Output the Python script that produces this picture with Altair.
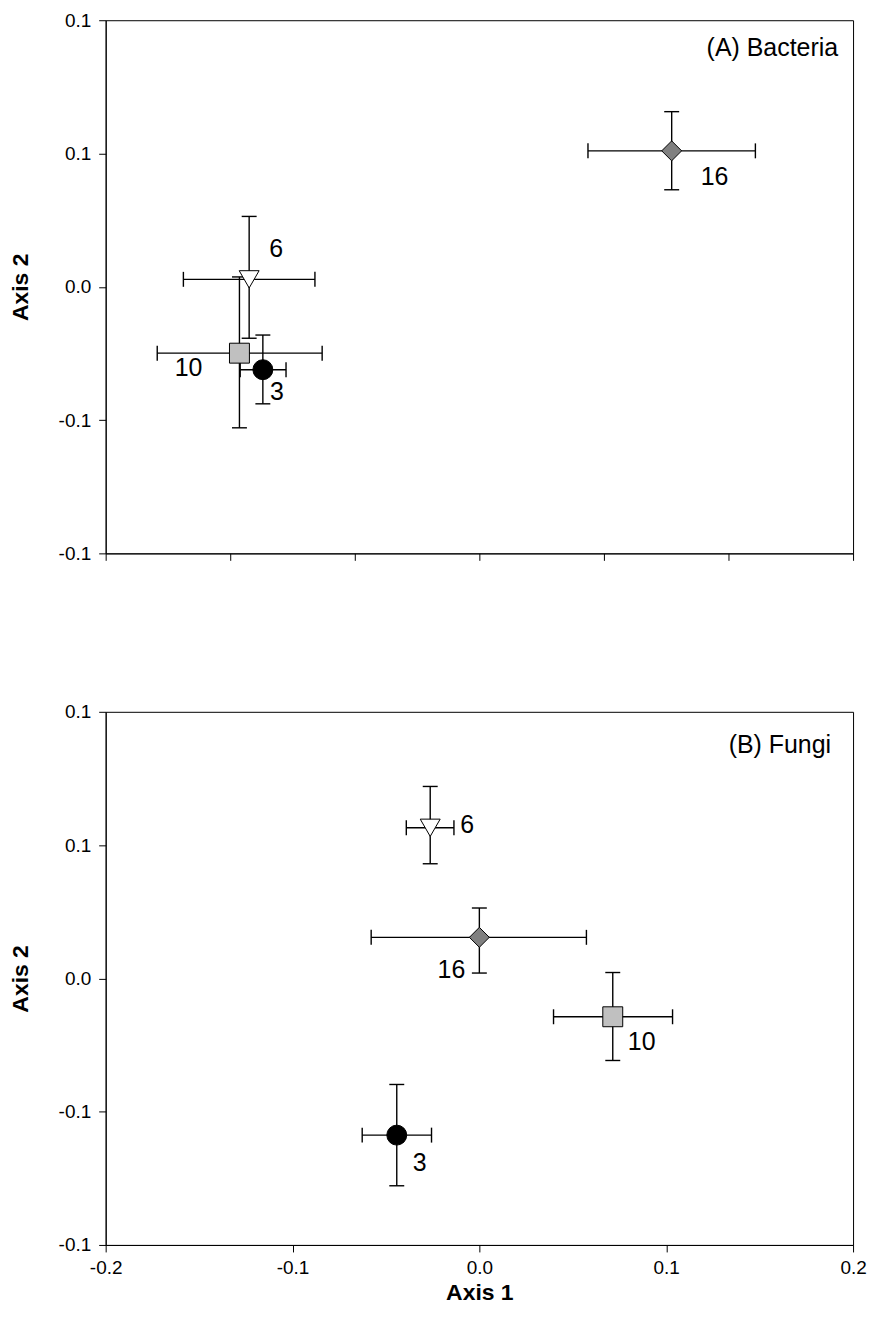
import altair as alt
import pandas as pd

FONT = "Liberation Sans"

# ---- data ----
groups = ["3", "6", "10", "16"]

# (A) Bacteria
a_x = [-0.0869, -0.0924, -0.0963, 0.0772]
a_xlo = [-0.0960, -0.1188, -0.1293, 0.0436]
a_xhi = [-0.0776, -0.0660, -0.0631, 0.1108]
a_y = [-0.0311, 0.0028, -0.0249, 0.0510]
a_ylo = [-0.0439, -0.0193, -0.0529, 0.0364]
a_yhi = [-0.0181, 0.0264, 0.0037, 0.0657]

# (B) Fungi
b_x = [-0.0442, -0.0263, 0.0714, 0.0000]
b_xlo = [-0.0627, -0.0391, 0.0397, -0.0579]
b_xhi = [-0.0256, -0.0136, 0.1034, 0.0573]
b_y = [-0.0588, 0.0565, -0.0144, 0.0154]
b_ylo = [-0.0778, 0.0430, -0.0308, 0.0020]
b_yhi = [-0.0398, 0.0720, 0.0022, 0.0264]

y_ticks = [-0.1, -0.05, 0.0, 0.05, 0.1]
a_x_ticks = [-0.15, -0.1, -0.05, 0.0, 0.05, 0.1, 0.15]
b_x_ticks = [-0.2, -0.1, 0.0, 0.1, 0.2]

LABEL_EXPR = "datum.value < 0 ? '-' + format(-datum.value, '.1f') : format(datum.value, '.1f')"

shape_scale = alt.Scale(domain=groups, range=["circle", "triangle-down", "square", "diamond"])
fill_scale = alt.Scale(domain=groups, range=["#000000", "#ffffff", "#c0c0c0", "#808080"])
size_scale = alt.Scale(domain=groups, range=[400, 400, 300, 480])

TEXT_SIZE = 25


def panel(xs, xlo, xhi, ys, ylo, yhi, xdom, xticks, show_xlabels, title_text, title_x, title_y, offsets):
    df = pd.DataFrame({"g": groups, "x": xs, "xlo": xlo, "xhi": xhi,
                       "y": ys, "ylo": ylo, "yhi": yhi})
    hcaps = pd.concat([
        pd.DataFrame({"g": groups, "cx": xlo, "cy": ys}),
        pd.DataFrame({"g": groups, "cx": xhi, "cy": ys}),
    ])
    vcaps = pd.concat([
        pd.DataFrame({"g": groups, "cx": xs, "cy": ylo}),
        pd.DataFrame({"g": groups, "cx": xs, "cy": yhi}),
    ])

    if show_xlabels:
        xaxis = alt.Axis(values=xticks, labelExpr=LABEL_EXPR, title="Axis 1", grid=False,
                         labelFlush=False, labelOverlap=False,
                         labelPadding=7, titlePadding=4)
    else:
        xaxis = alt.Axis(values=xticks, labels=False, title=None, grid=False)
    yaxis = alt.Axis(values=y_ticks, labelExpr=LABEL_EXPR, title="Axis 2", grid=False,
                     labelFlush=False, labelOverlap=False,
                     labelPadding=8, titlePadding=26)

    xsc = alt.Scale(domain=xdom, nice=False, zero=False)
    ysc = alt.Scale(domain=[-0.1, 0.1], nice=False, zero=False)

    base = alt.Chart(df)
    xerr = base.mark_rule(color="black", strokeWidth=1.4).encode(
        x=alt.X("xlo:Q", scale=xsc, axis=xaxis),
        x2="xhi:Q",
        y=alt.Y("y:Q", scale=ysc, axis=yaxis),
    )
    yerr = base.mark_rule(color="black", strokeWidth=1.4).encode(
        x="x:Q", y="ylo:Q", y2="yhi:Q")
    hc = alt.Chart(hcaps).mark_tick(orient="vertical", size=15, thickness=1.4,
                                    color="black", opacity=1).encode(x="cx:Q", y="cy:Q")
    vc = alt.Chart(vcaps).mark_tick(orient="horizontal", size=15, thickness=1.4,
                                    color="black", opacity=1).encode(x="cx:Q", y="cy:Q")
    pts = base.mark_point(filled=True, stroke="black", strokeWidth=1, opacity=1).encode(
        x="x:Q", y="y:Q",
        shape=alt.Shape("g:N", scale=shape_scale, legend=None),
        fill=alt.Fill("g:N", scale=fill_scale, legend=None),
        size=alt.Size("g:N", scale=size_scale, legend=None),
    )
    layers = [xerr, yerr, hc, vc, pts]
    for g in groups:
        dx, dy = offsets[g]
        layers.append(
            base.transform_filter(alt.datum.g == g).mark_text(
                font=FONT, fontSize=TEXT_SIZE, color="black", dx=dx, dy=dy,
                align="center", baseline="middle").encode(x="x:Q", y="y:Q", text="g:N")
        )
    tdf = pd.DataFrame({"t": [title_text]})
    layers.append(
        alt.Chart(tdf).mark_text(font=FONT, fontSize=TEXT_SIZE, color="black", align="right",
                                 baseline="middle").encode(
            x=alt.value(title_x), y=alt.value(title_y), text="t:N")
    )
    return alt.layer(*layers).properties(width=750, height=535)


top = panel(a_x, a_xlo, a_xhi, a_y, a_ylo, a_yhi, [-0.15, 0.15], a_x_ticks, False,
            "(A) Bacteria", 735, 28,
            {"3": (14, 22), "6": (27, -30), "10": (-51, 15), "16": (43, 26)})
bottom = panel(b_x, b_xlo, b_xhi, b_y, b_ylo, b_yhi, [-0.2, 0.2], b_x_ticks, True,
               "(B) Fungi", 728, 33,
               {"3": (23, 28), "6": (37, -3), "10": (29, 25), "16": (-28, 33)})

chart = alt.vconcat(top, bottom, spacing=138).properties(
    padding={"left": 0, "top": 0, "right": 0, "bottom": 0},
    background="white",
).configure_view(stroke="black", strokeWidth=1).configure_axis(
    domainColor="black", domainWidth=1, tickColor="black", tickWidth=1, tickSize=7,
    labelColor="black", labelFont=FONT, labelFontSize=19, grid=False,
    titleFont=FONT, titleFontSize=23, titleFontWeight="bold", titleColor="black",
)

chart.save("out.html", embed_options={"renderer": "svg", "actions": False})
